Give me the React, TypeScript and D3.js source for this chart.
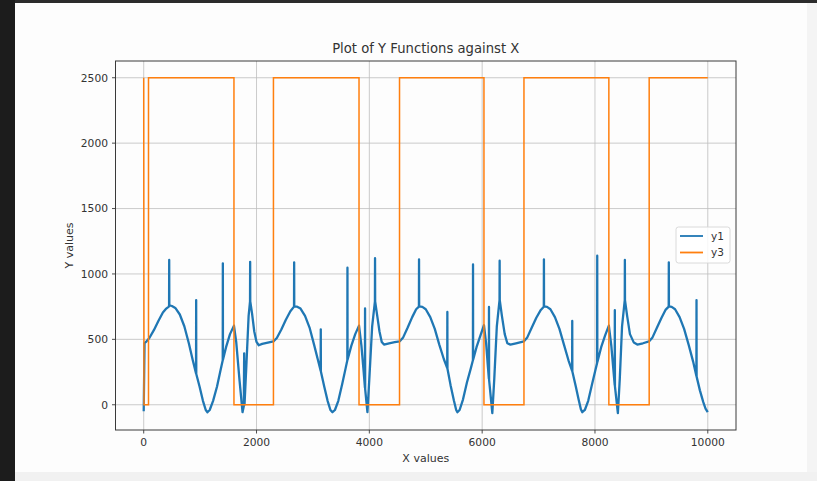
import React from "react";
import * as d3 from "d3";

// ---- data ----
const y1Points: [number, number][] = [
  [0, -50], [15, 470], [40, 480],
  // cycle 1
  [100, 510], [180, 570], [260, 640], [340, 705], [400, 735], [445, 750], [450, 760], [452, 1107], [454, 760],
  [500, 755], [560, 740], [640, 690], [720, 600], [800, 470], [870, 340], [928, 240], [930, 800], [932, 235],
  [990, 140], [1050, 30], [1100, -40], [1130, -57], [1170, -40], [1230, 30], [1300, 140], [1360, 260],
  [1401, 340], [1403, 1081], [1405, 345], [1460, 440], [1530, 540], [1600, 605],
  [1640, 480], [1700, 180], [1752, -57], [1775, -10], [1781, 393], [1787, 0], [1820, 300], [1860, 680],
  [1885, 790], [1887, 1093], [1889, 790], [1920, 700], [1960, 560], [2000, 480], [2040, 455], [2100, 465],
  [2200, 475], [2300, 485],
  // cycle 2
  [2360, 510], [2440, 575], [2520, 650], [2600, 715], [2665, 750], [2667, 1089], [2669, 750], [2720, 750],
  [2780, 735], [2860, 680], [2940, 590], [3020, 460], [3090, 340], [3137, 260], [3139, 577], [3141, 255],
  [3200, 140], [3260, 30], [3310, -40], [3346, -57], [3390, -40], [3450, 30], [3520, 160], [3580, 280],
  [3610, 340], [3612, 1048], [3614, 345], [3680, 450], [3750, 540], [3817, 605],
  [3860, 450], [3900, 250], [3922, 130], [3924, 736], [3926, 120], [3966, -57], [4000, 200], [4050, 600],
  [4099, 790], [4101, 1120], [4103, 790], [4140, 680], [4180, 560], [4220, 480], [4260, 460], [4350, 470],
  [4450, 478], [4539, 485],
  // cycle 3
  [4600, 515], [4680, 590], [4760, 670], [4830, 730], [4879, 750], [4881, 1112], [4883, 752], [4940, 748],
  [5000, 730], [5080, 670], [5160, 580], [5240, 460], [5320, 350], [5381, 280], [5383, 710], [5385, 275],
  [5440, 150], [5500, 30], [5540, -40], [5561, -57], [5600, -40], [5660, 40], [5730, 170], [5800, 280],
  [5836, 340], [5838, 1073], [5840, 345], [5900, 440], [5970, 530], [6032, 608],
  [6070, 470], [6100, 300], [6119, 200], [6121, 748], [6123, 190], [6180, -64], [6215, 200], [6260, 600],
  [6308, 800], [6310, 1101], [6312, 800], [6350, 680], [6400, 540], [6446, 470], [6500, 460], [6600, 470],
  [6741, 485],
  // cycle 4
  [6800, 515], [6880, 590], [6960, 665], [7040, 725], [7093, 750], [7095, 1112], [7097, 752], [7150, 748],
  [7210, 730], [7290, 670], [7370, 580], [7450, 460], [7530, 340], [7595, 260], [7597, 641], [7599, 255],
  [7660, 140], [7710, 40], [7750, -35], [7775, -57], [7820, -40], [7880, 30], [7950, 160], [8010, 270],
  [8038, 320], [8040, 1140], [8042, 325], [8110, 440], [8180, 530], [8246, 605],
  [8290, 450], [8330, 250], [8350, 150], [8352, 723], [8354, 140], [8406, -64], [8440, 200], [8480, 600],
  [8528, 800], [8530, 1107], [8532, 800], [8570, 680], [8620, 540], [8689, 475], [8750, 460], [8850, 470],
  [8961, 485],
  // cycle 5
  [9020, 515], [9100, 590], [9180, 665], [9250, 725], [9307, 750], [9309, 1089], [9311, 752], [9360, 748],
  [9420, 730], [9500, 670], [9580, 580], [9660, 460], [9740, 330], [9798, 220], [9800, 800], [9802, 215],
  [9860, 110], [9920, 20], [9960, -30], [9999, -57],
];

const y3Points: [number, number][] = [
  [0, 2500], [5, 0], [85, 0], [85, 2500], [1600, 2500], [1600, 0], [2300, 0], [2300, 2500],
  [3817, 2500], [3817, 0], [4535, 0], [4535, 2500], [6032, 2500], [6032, 0], [6741, 0], [6741, 2500],
  [8246, 2500], [8246, 0], [8961, 0], [8961, 2500], [9999, 2500],
];

const xTicks = [0, 2000, 4000, 6000, 8000, 10000];
const yTicks = [0, 500, 1000, 1500, 2000, 2500];
const seriesNames = ["y1", "y3"];
const seriesColors = ["#1f77b4", "#ff7f0e"];

const W = 817;
const H = 481;
const plot = { left: 115.5, right: 736, top: 61, bottom: 430 };
const font = "'DejaVu Sans', sans-serif";

export default function App() {
  const x = d3.scaleLinear().domain([-500, 10500]).range([plot.left, plot.right]);
  const y = d3.scaleLinear().domain([-193, 2628]).range([plot.bottom, plot.top]);
  const line = d3
    .line<[number, number]>()
    .x((d) => x(d[0]))
    .y((d) => y(d[1]));

  return (
    <div style={{ position: "fixed", left: 0, top: 0, width: W, height: H }}>
      <svg width={W} height={H} style={{ display: "block" }}>
        <rect x={0} y={0} width={W} height={H} fill="#fdfdfd" />
        <rect x={807} y={0} width={10} height={H} fill="#f4f4f4" />
        <rect x={0} y={472} width={W} height={9} fill="#f1f1f1" />
        <rect x={0} y={0} width={W} height={3} fill="#2b2b2b" />
        <rect x={0} y={0} width={15} height={H} fill="#1c1c1c" />

        {/* grid */}
        <g stroke="#b8b8b8" strokeWidth={0.8} opacity={0.9}>
          {xTicks.map((t) => (
            <line key={"gx" + t} x1={x(t)} x2={x(t)} y1={plot.top} y2={plot.bottom} />
          ))}
          {yTicks.map((t) => (
            <line key={"gy" + t} x1={plot.left} x2={plot.right} y1={y(t)} y2={y(t)} />
          ))}
        </g>

        {/* series */}
        <path d={line(y1Points) || ""} fill="none" stroke={seriesColors[0]} strokeWidth={2.3} strokeLinejoin="round" />
        <path d={line(y3Points) || ""} fill="none" stroke={seriesColors[1]} strokeWidth={1.5} />

        {/* frame */}
        <rect
          x={plot.left}
          y={plot.top}
          width={plot.right - plot.left}
          height={plot.bottom - plot.top}
          fill="none"
          stroke="#3a3a3a"
          strokeWidth={1}
        />

        {/* ticks */}
        <g stroke="#3a3a3a" strokeWidth={0.9}>
          {xTicks.map((t) => (
            <line key={"tx" + t} x1={x(t)} x2={x(t)} y1={plot.bottom} y2={plot.bottom + 3.5} />
          ))}
          {yTicks.map((t) => (
            <line key={"ty" + t} x1={plot.left - 3.5} x2={plot.left} y1={y(t)} y2={y(t)} />
          ))}
        </g>
        <g fontFamily={font} fontSize={10.7} fill="#333">
          {xTicks.map((t) => (
            <text key={"lx" + t} x={x(t)} y={446} textAnchor="middle">
              {t}
            </text>
          ))}
          {yTicks.map((t) => (
            <text key={"ly" + t} x={plot.left - 7.5} y={y(t)} dy="0.36em" textAnchor="end">
              {t}
            </text>
          ))}
        </g>

        {/* labels */}
        <text x={(plot.left + plot.right) / 2} y={53} textAnchor="middle" fontFamily={font} fontSize={13.2} fill="#333">
          Plot of Y Functions against X
        </text>
        <text x={(plot.left + plot.right) / 2} y={461.5} textAnchor="middle" fontFamily={font} fontSize={11} fill="#333">
          X values
        </text>
        <text
          transform={`translate(72.5,${(plot.top + plot.bottom) / 2}) rotate(-90)`}
          textAnchor="middle"
          fontFamily={font}
          fontSize={11}
          fill="#333"
        >
          Y values
        </text>

        {/* legend */}
        <g>
          <rect x={676} y={227} width={54} height={36} rx={2.5} fill="#ffffff" fillOpacity={0.85} stroke="#d6d6d6" strokeWidth={0.9} />
          {seriesNames.map((n, i) => (
            <g key={n}>
              <line x1={680} x2={703} y1={236 + i * 16.5} y2={236 + i * 16.5} stroke={seriesColors[i]} strokeWidth={1.8} />
              <text x={711} y={236 + i * 16.5} dy="0.36em" fontFamily={font} fontSize={10.5} fill="#333">
                {n}
              </text>
            </g>
          ))}
        </g>
      </svg>
    </div>
  );
}
